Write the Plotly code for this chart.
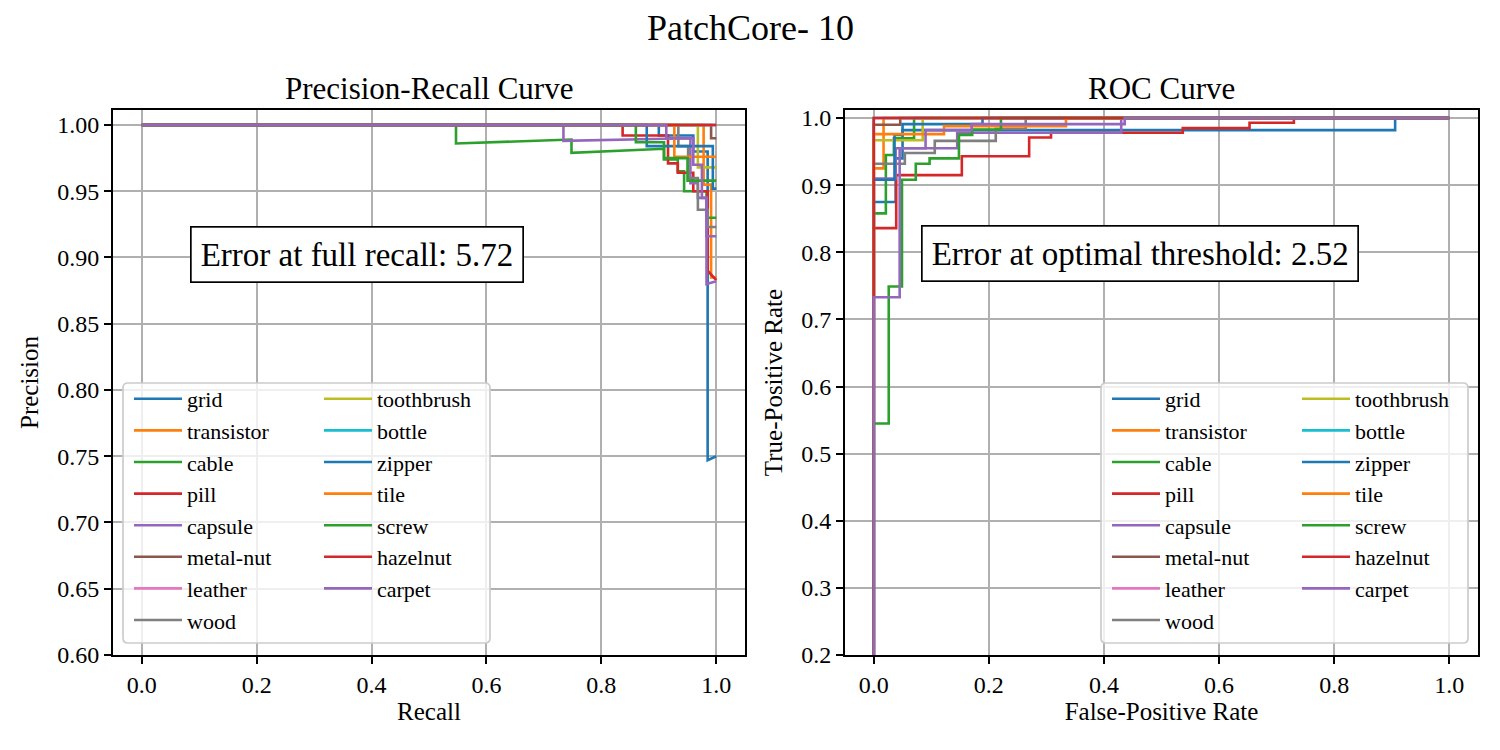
import plotly.graph_objects as go

# ---------------- data ----------------
CLASSES = ["grid", "transistor", "cable", "pill", "capsule", "metal-nut", "leather",
           "wood", "toothbrush", "bottle", "zipper", "tile", "screw", "hazelnut", "carpet"]
COLORS = ["#1f77b4", "#ff7f0e", "#2ca02c", "#d62728", "#9467bd", "#8c564b", "#e377c2",
          "#7f7f7f", "#bcbd22", "#17becf", "#1f77b4", "#ff7f0e", "#2ca02c", "#d62728", "#9467bd"]

# Precision-Recall curves (recall, precision)
pr_grid_r = [0.0, 0.90, 0.90, 0.96, 0.96, 0.985, 0.985, 1.0]
pr_grid_p = [1.0, 1.0, 0.992, 0.992, 0.980, 0.980, 0.747, 0.750]
pr_transistor_r = [0.0, 0.978, 0.978, 0.991, 0.991, 1.0]
pr_transistor_p = [1.0, 1.0, 0.955, 0.955, 0.885, 0.885]
pr_cable_r = [0.0, 0.547, 0.547, 0.735, 0.748, 0.748, 0.909, 0.909, 0.933, 0.933, 0.944, 0.944, 0.983, 0.983, 1.0]
pr_cable_p = [1.0, 1.0, 0.986, 0.989, 0.989, 0.979, 0.982, 0.974, 0.974, 0.965, 0.965, 0.950, 0.950, 0.930, 0.930]
pr_pill_r = [0.0, 0.837, 0.837, 0.916, 0.916, 0.933, 0.933, 0.960, 0.960, 0.985, 0.985, 1.0]
pr_pill_p = [1.0, 1.0, 0.992, 0.992, 0.971, 0.971, 0.964, 0.964, 0.950, 0.950, 0.890, 0.883]
pr_capsule_r = [0.0, 0.734, 0.734, 0.955, 0.955, 0.968, 0.968, 0.983, 0.983, 1.0]
pr_capsule_p = [1.0, 1.0, 0.988, 0.990, 0.956, 0.956, 0.945, 0.945, 0.916, 0.916]
pr_metalnut_r = [0.0, 0.991, 0.991, 1.0]
pr_metalnut_p = [1.0, 1.0, 0.990, 0.990]
pr_leather_r = [0.0, 1.0]
pr_leather_p = [1.0, 1.0]
pr_wood_r = [0.0, 0.934, 0.934, 0.951, 0.951, 0.968, 0.968, 0.985, 0.985, 1.0]
pr_wood_p = [1.0, 1.0, 0.984, 0.984, 0.960, 0.960, 0.936, 0.936, 0.923, 0.923]
pr_toothbrush_r = [0.0, 0.968, 0.968, 1.0]
pr_toothbrush_p = [1.0, 1.0, 0.968, 0.968]
pr_bottle_r = [0.0, 1.0]
pr_bottle_p = [1.0, 1.0]
pr_zipper_r = [0.0, 0.879, 0.879, 0.994, 0.994, 1.0]
pr_zipper_p = [1.0, 1.0, 0.984, 0.984, 0.952, 0.952]
pr_tile_r = [0.0, 0.927, 0.927, 1.0]
pr_tile_p = [1.0, 1.0, 0.976, 0.976]
pr_screw_r = [0.0, 0.860, 0.860, 0.909, 0.909, 0.950, 0.950, 1.0]
pr_screw_p = [1.0, 1.0, 0.987, 0.987, 0.975, 0.975, 0.958, 0.958]
pr_hazelnut_r = [0.0, 1.0]
pr_hazelnut_p = [1.0, 1.0]
pr_carpet_r = [0.0, 0.913, 0.913, 0.960, 0.960, 0.975, 0.975, 0.983, 0.983, 1.0]
pr_carpet_p = [1.0, 1.0, 0.990, 0.990, 0.970, 0.970, 0.945, 0.945, 0.880, 0.882]

# ROC curves (false-positive rate, true-positive rate)
roc_grid_f = [0.0, 0.0, 0.038, 0.038, 0.050, 0.050, 0.906, 0.906, 1.0]
roc_grid_t = [0.0, 0.875, 0.875, 0.940, 0.940, 0.982, 0.982, 1.0, 1.0]
roc_transistor_f = [0.0, 0.0, 0.017, 0.017, 1.0]
roc_transistor_t = [0.0, 0.925, 0.925, 1.0, 1.0]
roc_cable_f = [0.0, 0.0, 0.021, 0.021, 0.035, 0.035, 0.070, 0.070, 1.0]
roc_cable_t = [0.0, 0.858, 0.858, 0.945, 0.945, 0.970, 0.970, 1.0, 1.0]
roc_pill_f = [0.0, 0.0, 0.039, 0.039, 0.153, 0.153, 0.270, 0.270, 0.308, 0.308, 0.537, 0.537, 0.653, 0.653, 0.730, 0.730, 1.0]
roc_pill_t = [0.0, 0.836, 0.836, 0.915, 0.915, 0.943, 0.943, 0.971, 0.971, 0.978, 0.978, 0.985, 0.985, 0.993, 0.993, 1.0, 1.0]
roc_capsule_f = [0.0, 0.0, 0.038, 0.038, 0.145, 0.145, 0.430, 0.430, 1.0]
roc_capsule_t = [0.0, 0.910, 0.910, 0.955, 0.955, 0.978, 0.978, 1.0, 1.0]
roc_metalnut_f = [0.0, 0.0, 0.046, 0.046, 1.0]
roc_metalnut_t = [0.0, 0.990, 0.990, 1.0, 1.0]
roc_leather_f = [0.0, 0.0, 1.0]
roc_leather_t = [0.0, 1.0, 1.0]
roc_wood_f = [0.0, 0.0, 0.054, 0.054, 0.106, 0.106, 0.212, 0.212, 0.264, 0.264, 1.0]
roc_wood_t = [0.0, 0.932, 0.932, 0.948, 0.948, 0.966, 0.966, 0.984, 0.984, 1.0, 1.0]
roc_toothbrush_f = [0.0, 0.0, 0.085, 0.085, 1.0]
roc_toothbrush_t = [0.0, 0.967, 0.967, 1.0, 1.0]
roc_bottle_f = [0.0, 0.0, 1.0]
roc_bottle_t = [0.0, 1.0, 1.0]
roc_zipper_f = [0.0, 0.0, 0.036, 0.036, 0.050, 0.050, 0.189, 0.189, 1.0]
roc_zipper_t = [0.0, 0.908, 0.908, 0.975, 0.975, 0.991, 0.991, 1.0, 1.0]
roc_tile_f = [0.0, 0.0, 0.122, 0.122, 0.334, 0.334, 1.0]
roc_tile_t = [0.0, 0.976, 0.976, 0.988, 0.988, 1.0, 1.0]
roc_screw_f = [0.0, 0.0, 0.026, 0.026, 0.049, 0.049, 0.073, 0.073, 0.097, 0.097, 0.148, 0.148, 0.171, 0.171, 0.221, 0.221, 1.0]
roc_screw_t = [0.0, 0.545, 0.545, 0.749, 0.749, 0.908, 0.908, 0.932, 0.932, 0.940, 0.940, 0.975, 0.975, 0.983, 0.983, 1.0, 1.0]
roc_hazelnut_f = [0.0, 0.0, 1.0]
roc_hazelnut_t = [0.0, 1.0, 1.0]
roc_carpet_f = [0.0, 0.0, 0.045, 0.045, 0.090, 0.090, 0.170, 0.170, 0.436, 0.436, 1.0]
roc_carpet_t = [0.0, 0.733, 0.733, 0.955, 0.955, 0.982, 0.982, 0.991, 0.991, 1.0, 1.0]

PR_ERROR = 5.72
ROC_ERROR = 2.52
TITLE = "PatchCore- 10"

PR = {
    "grid": (pr_grid_r, pr_grid_p), "transistor": (pr_transistor_r, pr_transistor_p),
    "cable": (pr_cable_r, pr_cable_p), "pill": (pr_pill_r, pr_pill_p),
    "capsule": (pr_capsule_r, pr_capsule_p), "metal-nut": (pr_metalnut_r, pr_metalnut_p),
    "leather": (pr_leather_r, pr_leather_p), "wood": (pr_wood_r, pr_wood_p),
    "toothbrush": (pr_toothbrush_r, pr_toothbrush_p), "bottle": (pr_bottle_r, pr_bottle_p),
    "zipper": (pr_zipper_r, pr_zipper_p), "tile": (pr_tile_r, pr_tile_p),
    "screw": (pr_screw_r, pr_screw_p), "hazelnut": (pr_hazelnut_r, pr_hazelnut_p),
    "carpet": (pr_carpet_r, pr_carpet_p),
}
ROC = {
    "grid": (roc_grid_f, roc_grid_t), "transistor": (roc_transistor_f, roc_transistor_t),
    "cable": (roc_cable_f, roc_cable_t), "pill": (roc_pill_f, roc_pill_t),
    "capsule": (roc_capsule_f, roc_capsule_t), "metal-nut": (roc_metalnut_f, roc_metalnut_t),
    "leather": (roc_leather_f, roc_leather_t), "wood": (roc_wood_f, roc_wood_t),
    "toothbrush": (roc_toothbrush_f, roc_toothbrush_t), "bottle": (roc_bottle_f, roc_bottle_t),
    "zipper": (roc_zipper_f, roc_zipper_t), "tile": (roc_tile_f, roc_tile_t),
    "screw": (roc_screw_f, roc_screw_t), "hazelnut": (roc_hazelnut_f, roc_hazelnut_t),
    "carpet": (roc_carpet_f, roc_carpet_t),
}

# ---------------- figure ----------------
W, H = 1500, 750
OFF = 8  # page body margin
FONT = "Liberation Serif"
LW = 2.6

fig = go.Figure()
for i, name in enumerate(CLASSES):
    col2 = i >= 8
    x, y = PR[name]
    fig.add_trace(go.Scatter(x=x, y=y, mode="lines", name=name,
                             line=dict(color=COLORS[i], width=LW),
                             xaxis="x", yaxis="y",
                             legend="legend2" if col2 else "legend",
                             legendgroup="pr" + name, hoverinfo="skip"))
for i, name in enumerate(CLASSES):
    col2 = i >= 8
    x, y = ROC[name]
    fig.add_trace(go.Scatter(x=x, y=y, mode="lines", name=name,
                             line=dict(color=COLORS[i], width=LW),
                             xaxis="x2", yaxis="y2",
                             legend="legend4" if col2 else "legend3",
                             legendgroup="roc" + name, hoverinfo="skip"))

def px_x(p):
    return (p - OFF) / W

def px_y(p):
    return 1 - (p - OFF) / H

axis_common = dict(showline=True, linecolor="black", linewidth=1.7, mirror=True,
                   ticks="outside", ticklen=7, tickwidth=1.7, tickcolor="black",
                   showgrid=True, gridcolor="#b0b0b0", gridwidth=1.7, zeroline=False,
                   tickfont=dict(family=FONT, size=24, color="black"))

fig.update_layout(
    width=W, height=H,
    margin=dict(l=0, r=0, t=0, b=0, autoexpand=False),
    paper_bgcolor="white", plot_bgcolor="white",
    font=dict(family=FONT, color="black"),
    showlegend=True,
    xaxis=dict(domain=[px_x(113), px_x(745)], range=[-0.05, 1.05], anchor="y",
               tickvals=[0, 0.2, 0.4, 0.6, 0.8, 1.0], tickformat=".1f",
               title=dict(text="Recall", font=dict(family=FONT, size=25), standoff=6),
               **axis_common),
    yaxis=dict(domain=[px_y(655), px_y(110)], range=[0.6, 1.0113], anchor="x",
               tickvals=[0.60, 0.65, 0.70, 0.75, 0.80, 0.85, 0.90, 0.95, 1.00], tickformat=".2f",
               title=dict(text="Precision", font=dict(family=FONT, size=25), standoff=12),
               **axis_common),
    xaxis2=dict(domain=[px_x(845), px_x(1478)], range=[-0.05, 1.05], anchor="y2",
                tickvals=[0, 0.2, 0.4, 0.6, 0.8, 1.0], tickformat=".1f",
                title=dict(text="False-Positive Rate", font=dict(family=FONT, size=25), standoff=6),
                **axis_common),
    yaxis2=dict(domain=[px_y(655), px_y(110)], range=[0.2, 1.012], anchor="x2",
                tickvals=[0.2, 0.3, 0.4, 0.5, 0.6, 0.7, 0.8, 0.9, 1.0], tickformat=".1f",
                title=dict(text="True-Positive Rate", font=dict(family=FONT, size=25), standoff=12),
                **axis_common),
)

leg_common = dict(bgcolor="rgba(0,0,0,0)", borderwidth=0, xanchor="left", yanchor="top",
                  font=dict(family=FONT, size=22, color="black"), tracegroupgap=0,
                  itemwidth=48, itemclick=False, itemdoubleclick=False)
fig.update_layout(
    legend=dict(x=px_x(129), y=px_y(378), **leg_common),
    legend2=dict(x=px_x(319), y=px_y(378), **leg_common),
    legend3=dict(x=px_x(1107), y=px_y(378), **leg_common),
    legend4=dict(x=px_x(1297), y=px_y(378), **leg_common),
)

# legend frames
def rounded_rect(x0, y0, x1, y1, r=5):
    X0, X1 = px_x(x0), px_x(x1)
    Y0, Y1 = px_y(y0), px_y(y1)  # Y0 top, Y1 bottom
    rx, ry = r / W, r / H
    return (f"M {X0+rx},{Y0} L {X1-rx},{Y0} Q {X1},{Y0} {X1},{Y0-ry} "
            f"L {X1},{Y1+ry} Q {X1},{Y1} {X1-rx},{Y1} L {X0+rx},{Y1} "
            f"Q {X0},{Y1} {X0},{Y1+ry} L {X0},{Y0-ry} Q {X0},{Y0} {X0+rx},{Y0} Z")

for bx in (123, 1101):
    fig.add_shape(type="path", path=rounded_rect(bx, 383, bx + 367, 643),
                  xref="paper", yref="paper", layer="above",
                  fillcolor="rgba(255,255,255,0.8)", line=dict(color="#cccccc", width=1.7))

# titles
fig.add_annotation(text=TITLE, x=px_x(750), y=px_y(28), xref="paper", yref="paper",
                   showarrow=False, font=dict(family=FONT, size=36),
                   xanchor="center", yanchor="middle")
fig.add_annotation(text="Precision-Recall Curve", x=px_x(429), y=px_y(88), xref="paper", yref="paper",
                   showarrow=False, font=dict(family=FONT, size=31),
                   xanchor="center", yanchor="middle")
fig.add_annotation(text="ROC Curve", x=px_x(1161.5), y=px_y(88), xref="paper", yref="paper",
                   showarrow=False, font=dict(family=FONT, size=31),
                   xanchor="center", yanchor="middle")

# error boxes
fig.add_annotation(text=f"Error at full recall: {PR_ERROR:.2f}", x=0.084, y=0.902, xref="x", yref="y",
                   xanchor="left", yanchor="middle", showarrow=False,
                   font=dict(family=FONT, size=33, color="black"),
                   bgcolor="white", bordercolor="black", borderwidth=1.7, borderpad=9)
fig.add_annotation(text=f"Error at optimal threshold: {ROC_ERROR:.2f}", x=0.082, y=0.798, xref="x2", yref="y2",
                   xanchor="left", yanchor="middle", showarrow=False,
                   font=dict(family=FONT, size=33, color="black"),
                   bgcolor="white", bordercolor="black", borderwidth=1.7, borderpad=9)

fig.write_html("out.html")
